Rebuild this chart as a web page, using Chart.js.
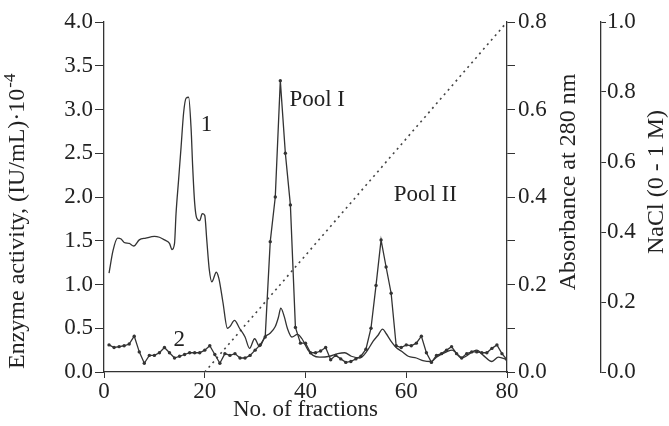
<!DOCTYPE html>
<html>
<head>
<meta charset="utf-8">
<script src="https://cdn.jsdelivr.net/npm/chart.js@4.4.1/dist/chart.umd.min.js"></script>
<style>
  html, body { margin: 0; padding: 0; background: #fff; }
  #wrap { width: 669px; height: 426px; }
</style>
</head>
<body>
<div id="wrap"><canvas id="chart" width="669" height="426"></canvas></div>
<script>
// fractions with enzyme activity (curve 2, dots), IU/mL x 10^-4
const fractions = [1,2,3,4,5,6,7,8,9,10,11,12,13,14,15,16,17,18,19,20,
  21,22,23,24,25,26,27,28,29,30,31,32,33,34,35,36,37,38,39,40,
  41,42,43,44,45,46,47,48,49,50,51,52,53,54,55,56,57,58,59,60,
  61,62,63,64,65,66,67,68,69,70,71,72,73,74,75,76,77,78,79,80];
const enzymeActivity = [0.31,0.28,0.29,0.30,0.32,0.41,0.23,0.10,0.19,0.19,
  0.22,0.28,0.22,0.16,0.18,0.20,0.22,0.22,0.22,0.25,
  0.30,0.20,0.10,0.21,0.19,0.21,0.16,0.16,0.19,0.25,
  0.31,0.40,1.49,2.00,3.33,2.50,1.91,0.51,0.33,0.33,
  0.22,0.22,0.24,0.28,0.14,0.19,0.15,0.11,0.12,0.15,
  0.18,0.26,0.50,0.99,1.51,1.20,0.90,0.30,0.28,0.31,
  0.30,0.33,0.41,0.22,0.11,0.19,0.21,0.25,0.29,0.21,
  0.16,0.21,0.23,0.23,0.22,0.22,0.27,0.31,0.21,0.14];

// absorbance at 280 nm (curve 1, solid)
const absFraction = [1,1.8,2.7,3.4,4,5,5.9,7,8.3,10,11,12,13,13.5,14,14.3,14.8,15.3,15.8,16.3,
  16.8,17.3,17.6,18,18.4,19,19.5,20,20.4,20.9,21.4,22.3,22.8,23.6,24.5,25,25.9,26.9,28,28.9,
  29.9,30.9,31.9,32.9,34,34.6,35.1,35.8,36.4,37.3,38.4,39.3,40.5,41.5,42.8,44.8,46.4,47.8,49.1,50.8,
  52.1,53.4,54.4,55.3,56,57,58,59,60.4,62,63.3,65,66,68,69.1,71,74,75.3,77,78.3,80];
const absorbance = [0.226,0.278,0.306,0.304,0.296,0.294,0.288,0.302,0.306,0.310,0.308,0.302,0.294,0.280,0.294,0.362,0.438,0.514,0.592,0.626,
  0.628,0.554,0.470,0.386,0.352,0.346,0.362,0.358,0.302,0.234,0.206,0.228,0.214,0.160,0.100,0.104,0.118,0.100,0.080,0.054,
  0.076,0.058,0.080,0.088,0.104,0.124,0.146,0.126,0.100,0.080,0.086,0.076,0.050,0.038,0.034,0.036,0.042,0.044,0.036,0.032,
  0.046,0.070,0.084,0.098,0.088,0.070,0.056,0.048,0.036,0.032,0.026,0.024,0.034,0.046,0.050,0.032,0.050,0.038,0.024,0.034,0.028];

// NaCl gradient 0 - 1 M
const naclFraction = [20, 80];
const naclConc = [0, 1];

const ink = '#333';
const serif = "'Liberation Serif', 'Times New Roman', serif";

Chart.defaults.font.family = serif;
Chart.defaults.font.size = 23;
Chart.defaults.color = '#222';

// rotated text reading bottom-to-top
function upText(ctx, text, x, y, align) {
  ctx.save();
  ctx.translate(x, y);
  ctx.rotate(-Math.PI / 2);
  ctx.textAlign = align;
  ctx.fillText(text, 0, 0);
  ctx.restore();
}

// plot labels and axis titles
const extraText = {
  id: 'extraText',
  afterDraw(chart) {
    const ctx = chart.ctx;
    const x = chart.scales.x, y = chart.scales.y;
    ctx.save();
    ctx.fillStyle = '#222';
    ctx.font = '23px ' + serif;
    ctx.textBaseline = 'middle';
    ctx.textAlign = 'left';
    ctx.fillText('1', x.getPixelForValue(19.2), y.getPixelForValue(2.82));
    ctx.fillText('2', x.getPixelForValue(13.8), y.getPixelForValue(0.37));
    ctx.fillText('Pool I', x.getPixelForValue(36.8), y.getPixelForValue(3.11));
    ctx.fillText('Pool II', x.getPixelForValue(57.5), y.getPixelForValue(2.02));

    ctx.font = '24px ' + serif;
    upText(ctx, 'Absorbance at 280 nm', 569, 182, 'center');
    upText(ctx, 'NaCl (0 - 1 M)', 657, 182, 'center');

    // left title with superscript
    const main = 'Enzyme activity, (IU/mL)·10';
    const w = ctx.measureText(main).width;
    upText(ctx, main, 18, 369, 'left');
    ctx.font = '17px ' + serif;
    upText(ctx, '-4', 11, 369 - w - 1, 'left');
    ctx.restore();
  }
};

new Chart(document.getElementById('chart'), {
  type: 'line',
  data: {
    datasets: [
      {
        label: 'Enzyme activity',
        data: fractions.map((f, i) => ({ x: f, y: enzymeActivity[i] })),
        yAxisID: 'y',
        borderColor: ink,
        backgroundColor: ink,
        borderWidth: 1.3,
        pointRadius: 1.7,
        pointBorderWidth: 0,
        tension: 0
      },
      {
        label: 'Absorbance',
        data: absFraction.map((f, i) => ({ x: f, y: absorbance[i] })),
        yAxisID: 'y1',
        borderColor: ink,
        borderWidth: 1.3,
        pointRadius: 0,
        cubicInterpolationMode: 'monotone'
      },
      {
        label: 'NaCl',
        data: naclFraction.map((f, i) => ({ x: f, y: naclConc[i] })),
        yAxisID: 'y2',
        borderColor: '#444',
        borderWidth: 1.6,
        borderDash: [2, 4],
        pointRadius: 0
      }
    ]
  },
  options: {
    responsive: false,
    animation: false,
    layout: { padding: { top: 22 } },
    plugins: {
      legend: { display: false },
      tooltip: { enabled: false }
    },
    scales: {
      x: {
        type: 'linear',
        min: 0, max: 80,
        afterFit: s => { s.height = 54; },
        ticks: { stepSize: 20, padding: 0 },
        grid: { drawOnChartArea: false, tickLength: 6, color: ink },
        border: { color: ink, width: 1.3 },
        title: { display: true, text: 'No. of fractions', padding: { top: 0, bottom: 2 } }
      },
      y: {
        position: 'left',
        min: 0, max: 4,
        afterFit: s => { s.width = 104; },
        ticks: { stepSize: 0.5, padding: 2, callback: v => v.toFixed(1) },
        grid: { drawOnChartArea: false, tickLength: 9, color: ink },
        border: { color: ink, width: 1.3 }
      },
      y1: {
        position: 'right',
        min: 0, max: 0.8,
        afterFit: s => { s.width = 94; },
        ticks: { stepSize: 0.1, padding: 3, callback: (v, i) => (i % 2 === 0 ? v.toFixed(1) : '') },
        grid: { drawOnChartArea: false, tickLength: 8, color: ink },
        border: { color: ink, width: 1.3 }
      },
      y2: {
        position: 'right',
        min: 0, max: 1,
        afterFit: s => { s.width = 68; },
        ticks: { stepSize: 0.2, padding: 1, callback: v => v.toFixed(1) },
        grid: { drawOnChartArea: false, tickLength: 5, color: ink },
        border: { color: ink, width: 1.3 }
      }
    }
  },
  plugins: [extraText]
});
</script>
</body>
</html>
